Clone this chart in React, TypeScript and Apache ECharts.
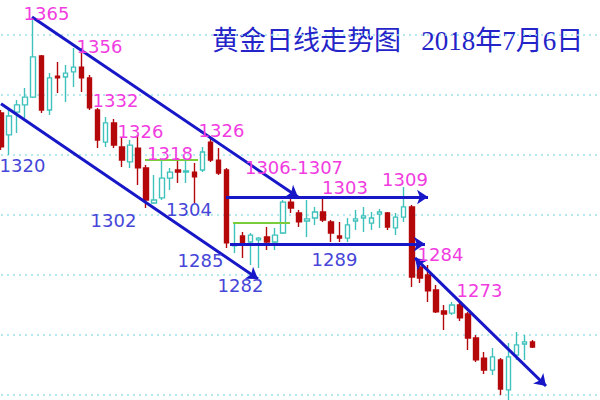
import React, { useEffect, useRef } from "react";
import * as echarts from "echarts";

// Daily gold candles: [open, close, low, high]
const candles: number[][] = [
  [1334, 1322.7, 1321.7, 1335],
  [1326.7, 1333, 1320, 1335],
  [1334.3, 1336.7, 1327.3, 1338.3],
  [1336.7, 1339.3, 1332.3, 1342.3],
  [1339.3, 1352.7, 1339, 1366],
  [1353, 1335, 1334, 1353.3],
  [1335, 1345.7, 1333.3, 1347.3],
  [1346.3, 1345.7, 1340.7, 1351],
  [1346, 1347.3, 1337.7, 1350],
  [1347.7, 1349.3, 1342.7, 1355.7],
  [1349.3, 1345.7, 1341, 1355.7],
  [1345.7, 1335.7, 1335, 1346.7],
  [1335, 1325, 1322.3, 1335.7],
  [1324.3, 1330.7, 1322.7, 1332.7],
  [1330.7, 1323.3, 1322.3, 1332],
  [1322.7, 1318.3, 1316, 1325.7],
  [1317.7, 1323.3, 1315.7, 1325],
  [1322.3, 1315.7, 1310, 1326.7],
  [1315.7, 1305, 1302.3, 1316.7],
  [1304, 1305, 1303.7, 1313.3],
  [1305.7, 1312.3, 1305, 1318.3],
  [1312.3, 1314.3, 1308.3, 1315.7],
  [1315, 1314.3, 1310.7, 1319],
  [1314.3, 1314.7, 1310.7, 1318.3],
  [1314.3, 1312.7, 1304, 1317.3],
  [1315, 1321, 1314.3, 1322.7],
  [1324.3, 1318.3, 1317.7, 1326],
  [1318.3, 1314, 1313.3, 1322.3],
  [1315, 1290.7, 1289, 1315.7],
  [1289.7, 1290.3, 1287.3, 1297.3],
  [1293, 1290.7, 1285.7, 1294.3],
  [1291, 1293.3, 1283.3, 1294],
  [1291.7, 1292.3, 1282.3, 1292.7],
  [1292.7, 1291, 1288.3, 1296],
  [1291, 1293.3, 1288.3, 1295.7],
  [1294, 1304.3, 1293.7, 1305],
  [1304.3, 1302.3, 1300.7, 1305.7],
  [1300.7, 1297.7, 1296, 1301.7],
  [1298, 1298.7, 1292.7, 1305],
  [1299, 1301, 1296.7, 1302.7],
  [1301, 1298.3, 1297.7, 1305.7],
  [1297.7, 1294, 1291, 1298.3],
  [1293, 1292.3, 1291, 1297.7],
  [1292.3, 1296.7, 1291, 1299],
  [1298, 1298.7, 1295, 1301.7],
  [1299, 1299.7, 1294.3, 1302.7],
  [1297.3, 1299, 1295, 1301],
  [1300.3, 1301, 1295.7, 1302],
  [1300.7, 1296, 1295, 1301],
  [1295.7, 1299.3, 1293.3, 1300.7],
  [1299.3, 1302.7, 1297.7, 1309.3],
  [1302.7, 1279.3, 1276, 1303.3],
  [1282.7, 1279, 1277.3, 1284.3],
  [1280, 1274.7, 1271, 1283.3],
  [1275, 1267.7, 1267.3, 1276.7],
  [1268, 1267, 1261.7, 1270],
  [1267.3, 1270, 1266.7, 1271],
  [1270, 1265.7, 1264.7, 1271],
  [1267, 1259, 1255, 1267.7],
  [1259, 1251.7, 1251, 1260],
  [1252.3, 1248.3, 1247, 1254.3],
  [1248.3, 1252.7, 1246.7, 1255.7],
  [1251.7, 1242, 1240, 1252.3],
  [1241.7, 1252.7, 1238.3, 1257.3],
  [1253.3, 1256.7, 1251.7, 1261],
  [1257, 1257.7, 1251.7, 1260],
  [1257.7, 1256, 1255.7, 1258.3],
];

const emptySlots = 8;
const categories: string[] = Array.from(
  { length: candles.length + emptySlots },
  (_, i) => String(i + 1)
);

const priceMin = 1240;
const priceMax = 1370;
const priceStep = 20;

// Annotation lines in data space: [slotFrom, priceFrom, slotTo, priceTo]
const channelLines: number[][] = [
  [3.85, 1366, 36.88, 1306],
  [0, 1337.1, 31.91, 1278.7],
];
const rangeLines: number[][] = [
  [27.94, 1306, 53.02, 1306],
  [28.43, 1290.3, 52.64, 1290.3],
];
const downTrend: number[][] = [[51.4, 1285.7, 67.67, 1243]];
const greenLines: number[][] = [
  [17.88, 1318.3, 24.46, 1318.3],
  [28.81, 1297.3, 35.88, 1297.3],
];

// Price labels: [text, slot, price]
const highLabels: [string, number, number][] = [
  ["1365", 5.65, 1367.2],
  ["1356", 12.23, 1356.2],
  ["1332", 14.22, 1338.3],
  ["1326", 17.32, 1327.8],
  ["1318", 20.98, 1320.5],
  ["1326", 27.38, 1328.3],
  ["1306-1307", 36.38, 1315.7],
  ["1303", 42.71, 1309.2],
  ["1309", 50.16, 1312],
  ["1284", 54.57, 1286.7],
  ["1273", 59.41, 1275],
];
const lowLabels: [string, number, number][] = [
  ["1320", 2.67, 1316.5],
  ["1302", 13.97, 1298.3],
  ["1304", 23.34, 1301.7],
  ["1285", 24.77, 1284.7],
  ["1282", 29.74, 1276.5],
  ["1289", 41.41, 1285.2],
];

const titleText = "黄金日线走势图   2018年7月6日";

const BLUE = "#1717c8";
const GREEN = "#7acc3a";
const PINK = "#f03ce0";
const LOWBLUE = "#4646d8";
const UP = "#3fc2bb";
const DOWN = "#b4080a";

export default function App() {
  const ref = useRef<HTMLDivElement>(null);
  useEffect(() => {
    if (!ref.current) return;
    const chart = echarts.init(ref.current, undefined, { renderer: "svg" });

    const seg = (l: number[], color: string, width: number, s0: string, s1: string) => [
      { coord: [l[0], l[1]], symbol: s0, symbolSize: 11, lineStyle: { color, width, type: "solid" } },
      { coord: [l[2], l[3]], symbol: s1, symbolSize: 11 },
    ];

    const markLineData = [
      ...channelLines.map((l) => seg(l, BLUE, 3, "none", channelLines.indexOf(l) >= 0 ? "arrow" : "none")),
      ...rangeLines.map((l) => seg(l, BLUE, 3, "none", "arrow")),
      ...downTrend.map((l) => seg(l, BLUE, 3, "arrow", "arrow")),
      ...greenLines.map((l) => seg(l, GREEN, 2, "none", "none")),
    ];

    const labelItem = (t: [string, number, number], color: string) => ({
      name: t[0],
      coord: [t[1], t[2]],
      label: { color },
    });

    const option: any = {
      animation: false,
      backgroundColor: "#ffffff",
      grid: { left: 1, right: 3, top: 5, bottom: 5, containLabel: false },
      xAxis: [
        {
          type: "category",
          data: categories,
          boundaryGap: false,
          show: false,
        },
        {
          type: "value",
          min: 0,
          max: categories.length - 1,
          show: false,
        },
      ],
      yAxis: {
        type: "value",
        min: priceMin,
        max: priceMax,
        interval: priceStep,
        axisLabel: { show: false },
        axisLine: { show: false },
        axisTick: { show: false },
        splitLine: {
          show: true,
          showMaxLine: false,
          lineStyle: { color: "#9ee2e6", width: 1.6, type: [2, 4] },
        },
      },
      graphic: [
        {
          type: "text",
          x: 212,
          y: 41,
          silent: true,
          style: {
            text: titleText,
            fill: "#2424c8",
            font: '27px "Liberation Serif", "Noto Sans CJK SC", serif',
            verticalAlign: "middle",
            align: "left",
          },
        },
      ],
      series: [
        {
          type: "candlestick",
          data: candles,
          barWidth: 5,
          clip: false,
          silent: true,
          itemStyle: {
            color: "#ffffff",
            color0: DOWN,
            borderColor: UP,
            borderColor0: DOWN,
            borderColorDoji: UP,
            borderWidth: 1.4,
          },
        },
        {
          type: "line",
          xAxisIndex: 1,
          yAxisIndex: 0,
          data: [],
          silent: true,
          showSymbol: false,
          markLine: {
            silent: true,
            animation: false,
            label: { show: false },
            emphasis: { disabled: true },
            data: markLineData,
          },
          markPoint: {
            silent: true,
            animation: false,
            symbol: "rect",
            symbolSize: 1,
            itemStyle: { color: "transparent" },
            label: {
              show: true,
              position: "inside",
              formatter: "{b}",
              fontFamily: '"DejaVu Sans", sans-serif',
              fontSize: 18,
            },
            data: [
              ...highLabels.map((t) => labelItem(t, PINK)),
              ...lowLabels.map((t) => labelItem(t, LOWBLUE)),
            ],
          },
        },
      ],
    };
    chart.setOption(option);
    return () => chart.dispose();
  }, []);

  return (
    <div
      ref={ref}
      style={{ position: "fixed", left: 0, top: 0, width: 600, height: 400, background: "#fff" }}
    />
  );
}
